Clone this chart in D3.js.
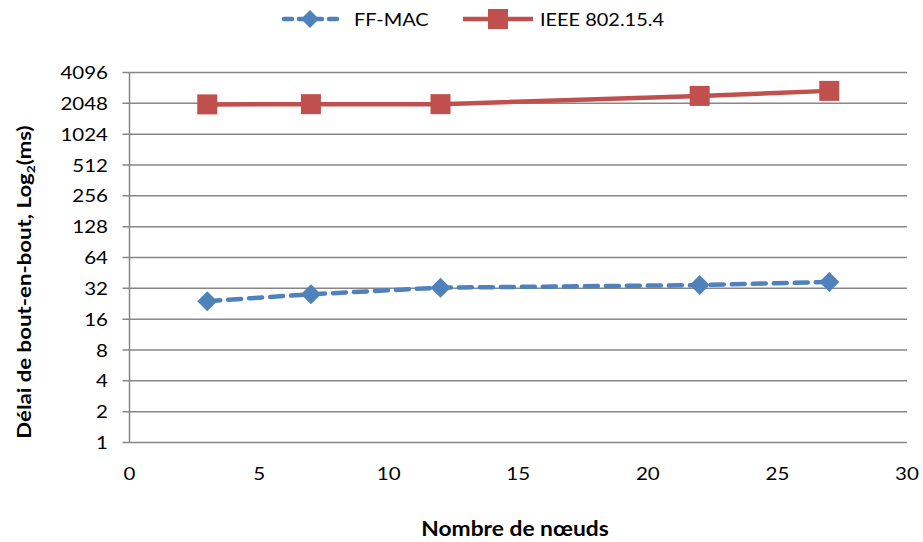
<!DOCTYPE html>
<html><head><meta charset="utf-8">
<script src="https://cdn.jsdelivr.net/npm/d3@7"></script>
<style>body{margin:0;background:#fff}svg{display:block}text{font-family:Lato,"Open Sans",sans-serif;fill:#000}</style>
</head><body><svg id="c" width="923" height="542"></svg>
<script>
const nodes = [3, 7, 12, 22, 27];
const ffmac = [24, 28, 32.5, 34.4, 36.9];
const ieee = [2000, 2010, 2010, 2420, 2710];
const yTicks = [1, 2, 4, 8, 16, 32, 64, 128, 256, 512, 1024, 2048, 4096];
const xTicks = [0, 5, 10, 15, 20, 25, 30];
const seriesNames = ["FF-MAC", "IEEE 802.15.4"];
const colors = ["#4F81BD", "#C0504D"];

const svg = d3.select("#c");
const L = 129.5, R = 907, T = 72.5, B = 442.5;
const x = d3.scaleLinear().domain([0, 30]).range([L, R]);
const y = d3.scaleLog().base(2).domain([1, 4096]).range([B, T]);
const SX = 1.14;

function txt(parent, px, py, str, size, anchor, weight, rot) {
  const t = parent.append("text")
    .attr("transform", `translate(${px},${py})${rot ? " rotate(-90)" : ""} scale(${SX},1)`)
    .attr("text-anchor", anchor).attr("font-size", size);
  if (weight) t.attr("font-weight", weight);
  if (str !== null) t.text(str);
  return t;
}

// gridlines
svg.append("g").selectAll("line").data(yTicks).join("line")
  .attr("x1", L - 7).attr("x2", R).attr("y1", d => y(d)).attr("y2", d => y(d))
  .attr("stroke", "#878787").attr("stroke-width", 1.5);
svg.append("line").attr("x1", L).attr("x2", L).attr("y1", T).attr("y2", B)
  .attr("stroke", "#878787").attr("stroke-width", 1.5);

// y tick labels
const gy = svg.append("g");
yTicks.forEach(d => txt(gy, 108, y(d) + 6.5, String(d), 18, "end"));
// x tick labels
const gx = svg.append("g");
xTicks.forEach(d => txt(gx, x(d), 480, String(d), 18, "middle"));

// titles
txt(svg, 515, 535.5, "Nombre de nœuds", 20, "middle", "bold");
const yt = txt(svg, 31, 282, null, 19.5, "middle", "bold", true);
yt.append("tspan").text("Délai de bout-en-bout, Log");
yt.append("tspan").attr("font-size", 12).attr("dy", 4).text("2");
yt.append("tspan").attr("dy", -4).text("(ms)");

const line = d3.line().x((d, i) => x(nodes[i])).y(d => y(d));

// IEEE
svg.append("path").datum(ieee).attr("d", line).attr("fill", "none")
  .attr("stroke", colors[1]).attr("stroke-width", 4.5);
svg.append("g").selectAll("rect").data(ieee).join("rect")
  .attr("x", (d, i) => x(nodes[i]) - 10).attr("y", d => y(d) - 10)
  .attr("width", 20).attr("height", 20).attr("fill", colors[1]);

// FF-MAC
svg.append("path").datum(ffmac).attr("d", line).attr("fill", "none")
  .attr("stroke", colors[0]).attr("stroke-width", 4.5)
  .attr("stroke-dasharray", "13,8").attr("stroke-linecap", "round");
svg.append("g").selectAll("path").data(ffmac).join("path")
  .attr("d", "M0,-10L10,0L0,10L-10,0Z")
  .attr("transform", (d, i) => `translate(${x(nodes[i])},${y(d)})`)
  .attr("fill", colors[0]);

// legend
const lg = svg.append("g");
lg.append("line").attr("x1", 284).attr("x2", 337).attr("y1", 19).attr("y2", 19)
  .attr("stroke", colors[0]).attr("stroke-width", 4.5).attr("stroke-dasharray", "8,7").attr("stroke-linecap", "round");
lg.append("path").attr("d", "M0,-9L9,0L0,9L-9,0Z").attr("transform", "translate(310,19)").attr("fill", colors[0]);
txt(lg, 354, 25.5, seriesNames[0], 17.5, "start");
lg.append("line").attr("x1", 463).attr("x2", 533).attr("y1", 19).attr("y2", 19)
  .attr("stroke", colors[1]).attr("stroke-width", 4.5);
lg.append("rect").attr("x", 488).attr("y", 9).attr("width", 20).attr("height", 20).attr("fill", colors[1]);
txt(lg, 540, 25.5, seriesNames[1], 17.5, "start");
</script></body></html>
